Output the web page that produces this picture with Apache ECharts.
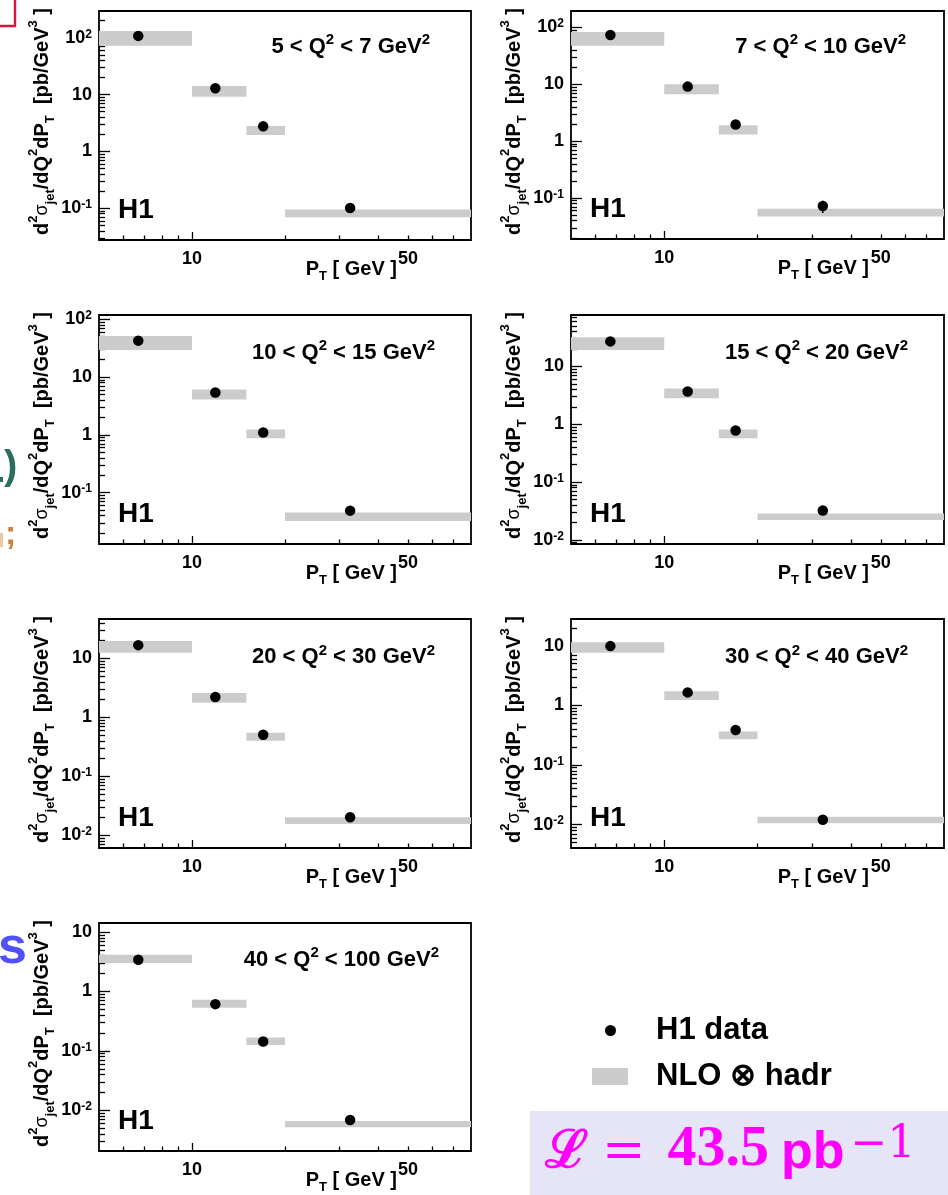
<!DOCTYPE html>
<html><head><meta charset="utf-8">
<script src="https://cdn.jsdelivr.net/npm/echarts@6/dist/echarts.min.js"></script>
<style>html,body{margin:0;padding:0;background:#fff}#c{width:948px;height:1195px}</style>
</head><body><div id="c"></div>
<script>
// ---------- data ----------
const ptBinLow  = [5, 10, 15, 20];
const ptBinHigh = [10, 15, 20, 80];
const ptMean    = [6.7, 11.9, 17.0, 32.5];
const q2Low  = [5, 7, 10, 15, 20, 30, 40];
const q2High = [7, 10, 15, 20, 30, 40, 100];

const h1_q5_7     = [108, 12.9, 2.76, 0.101];
const err_q5_7    = [3, 0.4, 0.09, 0.008];
const nloLo_q5_7  = [72.2, 9.2, 1.94, 0.0693];
const nloHi_q5_7  = [131, 14.2, 2.80, 0.0947];

const h1_q7_10    = [73.3, 9.1, 1.96, 0.0724];
const err_q7_10   = [2.2, 0.3, 0.07, 0.0175];
const nloLo_q7_10 = [47.6, 6.68, 1.31, 0.0476];
const nloHi_q7_10 = [82.8, 10.0, 1.91, 0.065];

const h1_q10_15    = [42.8, 5.43, 1.10, 0.0488];
const err_q10_15   = [1.3, 0.17, 0.04, 0.008];
const nloLo_q10_15 = [29.4, 4.10, 0.875, 0.0324];
const nloHi_q10_15 = [51.4, 6.12, 1.24, 0.0451];

const h1_q15_20    = [27.0, 3.67, 0.777, 0.0324];
const err_q15_20   = [0.8, 0.12, 0.03, 0.004];
const nloLo_q15_20 = [19.1, 2.81, 0.573, 0.0221];
const nloHi_q15_20 = [31.7, 4.13, 0.809, 0.0288];

const h1_q20_30    = [16.8, 2.21, 0.508, 0.0202];
const err_q20_30   = [0.5, 0.07, 0.02, 0.003];
const nloLo_q20_30 = [12.5, 1.77, 0.402, 0.0156];
const nloHi_q20_30 = [19.7, 2.59, 0.549, 0.0202];

const h1_q30_40    = [9.87, 1.65, 0.385, 0.0121];
const err_q30_40   = [0.3, 0.05, 0.015, 0.002];
const nloLo_q30_40 = [7.62, 1.23, 0.271, 0.0105];
const nloHi_q30_40 = [11.5, 1.72, 0.365, 0.0136];

const h1_q40_100    = [3.42, 0.612, 0.144, 0.00687];
const err_q40_100   = [0.1, 0.02, 0.006, 0.001];
const nloLo_q40_100 = [3.01, 0.531, 0.126, 0.00518];
const nloHi_q40_100 = [4.16, 0.724, 0.168, 0.00662];

const yMin = [0.0276, 0.0191, 0.0129, 0.00853, 0.0061, 0.00405, 0.00207];
const yMax = [296, 194, 119, 77.1, 46.6, 28.1, 14.2];
const xMin = 5, xMax = 80;
const xLabelValues = [10, 50];
const xMajorTicks = [10];
const xMinorTicks = [6, 7, 8, 9, 20, 30, 40, 50, 60, 70];
const yDecades = [0.001, 0.01, 0.1, 1, 10, 100, 1000];

// ---------- assembly ----------
const panels = [
  {h1: h1_q5_7,    err: err_q5_7,    lo: nloLo_q5_7,    hi: nloHi_q5_7},
  {h1: h1_q7_10,   err: err_q7_10,   lo: nloLo_q7_10,   hi: nloHi_q7_10},
  {h1: h1_q10_15,  err: err_q10_15,  lo: nloLo_q10_15,  hi: nloHi_q10_15},
  {h1: h1_q15_20,  err: err_q15_20,  lo: nloLo_q15_20,  hi: nloHi_q15_20},
  {h1: h1_q20_30,  err: err_q20_30,  lo: nloLo_q20_30,  hi: nloHi_q20_30},
  {h1: h1_q30_40,  err: err_q30_40,  lo: nloLo_q30_40,  hi: nloHi_q30_40},
  {h1: h1_q40_100, err: err_q40_100, lo: nloLo_q40_100, hi: nloHi_q40_100}
];
const layout = [
  {left: 99,  top: 11,  w: 372, h: 229, titleRight: 430, titleDy: 35.5},
  {left: 571, top: 11,  w: 373, h: 228, titleRight: 906, titleDy: 35.5},
  {left: 99,  top: 315, w: 372, h: 229, titleRight: 435, titleDy: 37.5},
  {left: 571, top: 315, w: 373, h: 229, titleRight: 908, titleDy: 37.5},
  {left: 99,  top: 619, w: 372, h: 229, titleRight: 435, titleDy: 38},
  {left: 571, top: 619, w: 373, h: 229, titleRight: 908, titleDy: 38},
  {left: 99,  top: 923, w: 372, h: 228, titleRight: 439, titleDy: 36.7}
];
const FONT = '"Liberation Sans", Arial, Helvetica, sans-serif';
const yMinorTicks = [];
for (let n = -3; n <= 2; n++) for (let k = 2; k <= 9; k++) yMinorTicks.push(Number((k * Math.pow(10, n)).toPrecision(6)));

function yLabel(v) {
  const e = Math.round(Math.log10(v));
  if (e === 0) return '{n|1}';
  if (e === 1) return '{n|10}';
  return '{n|10}{e|' + e + '}';
}

const grid = [], xAxis = [], yAxis = [], series = [], elements = [];
const tickStyle = {color: '#000', width: 1.3};

panels.forEach((p, i) => {
  const L = layout[i];
  grid.push({left: L.left, top: L.top, width: L.w, height: L.h, show: true,
    borderColor: '#000', borderWidth: 1.8, backgroundColor: 'transparent',
    containLabel: false, outerBoundsMode: 'none'});
  // major x
  xAxis.push({type: 'log', logBase: 10, gridIndex: i, min: xMin, max: xMax, position: 'bottom',
    axisLine: {show: false}, splitLine: {show: false}, minorTick: {show: false},
    axisTick: {show: true, inside: true, length: 8, customValues: xMajorTicks, lineStyle: tickStyle},
    axisLabel: {show: true, customValues: xLabelValues, margin: 10, fontSize: 18, fontWeight: 'bold',
      fontFamily: FONT, color: '#000', formatter: v => String(Math.round(v))}});
  // minor x
  xAxis.push({type: 'log', logBase: 10, gridIndex: i, min: xMin, max: xMax, position: 'bottom',
    axisLine: {show: false}, splitLine: {show: false}, axisLabel: {show: false},
    axisTick: {show: true, inside: true, length: 4.5, customValues: xMinorTicks, lineStyle: tickStyle}});
  // major y
  yAxis.push({type: 'log', logBase: 10, gridIndex: i, min: yMin[i], max: yMax[i], position: 'left',
    axisLine: {show: false}, splitLine: {show: false}, minorTick: {show: false},
    axisTick: {show: true, inside: true, length: 11, customValues: yDecades, lineStyle: tickStyle},
    axisLabel: {show: true, customValues: yDecades, margin: 7, formatter: yLabel,
      rich: {
        n: {fontSize: 18, fontWeight: 'bold', fontFamily: FONT, color: '#000', lineHeight: 19},
        e: {fontSize: 12, fontWeight: 'bold', fontFamily: FONT, color: '#000', verticalAlign: 'top', lineHeight: 12}
      }}});
  // minor y
  yAxis.push({type: 'log', logBase: 10, gridIndex: i, min: yMin[i], max: yMax[i], position: 'left',
    axisLine: {show: false}, splitLine: {show: false}, axisLabel: {show: false},
    axisTick: {show: true, inside: true, length: 6, customValues: yMinorTicks, lineStyle: tickStyle}});

  const xi = 2 * i, yi = 2 * i;
  series.push({
    type: 'custom', name: 'NLO ⊗ hadr', xAxisIndex: xi, yAxisIndex: yi, z: 1,
    itemStyle: {color: '#cccccc'},
    data: ptBinLow.map((x, j) => [x, ptBinHigh[j], p.lo[j], p.hi[j]]),
    encode: {x: [0, 1], y: [2, 3]},
    renderItem: (params, api) => {
      const a = api.coord([api.value(0), api.value(3)]);
      const b = api.coord([api.value(1), api.value(2)]);
      return {type: 'rect', shape: {x: a[0], y: a[1], width: b[0] - a[0], height: b[1] - a[1]},
        style: {fill: '#cccccc'}};
    }
  });
  series.push({
    type: 'custom', name: 'H1 data', xAxisIndex: xi, yAxisIndex: yi, z: 2,
    itemStyle: {color: '#000'},
    data: ptMean.map((x, j) => [x, p.h1[j] - p.err[j], p.h1[j] + p.err[j]]),
    encode: {x: 0, y: [1, 2]},
    renderItem: (params, api) => {
      const a = api.coord([api.value(0), api.value(1)]);
      const b = api.coord([api.value(0), api.value(2)]);
      return {type: 'line', shape: {x1: a[0], y1: a[1], x2: b[0], y2: b[1]},
        style: {stroke: '#000', lineWidth: 1.5}};
    }
  });
  series.push({
    type: 'scatter', name: 'H1 data', xAxisIndex: xi, yAxisIndex: yi, z: 3,
    symbol: 'circle', symbolSize: 10.5, itemStyle: {color: '#000', opacity: 1},
    data: ptMean.map((x, j) => [x, p.h1[j]])
  });

  // texts
  const bottom = L.top + L.h;
  elements.push({type: 'text', x: L.left + 19, y: bottom - 29.5, silent: true,
    style: {text: 'H1', font: 'bold 28px ' + FONT, fill: '#000', textAlign: 'left', textVerticalAlign: 'middle'}});
  elements.push({type: 'text', x: L.titleRight, y: L.top + L.titleDy, silent: true,
    style: {text: '{m|' + q2Low[i] + ' < Q}{s|2}{m| < ' + q2High[i] + ' GeV}{s|2}', textAlign: 'right', textVerticalAlign: 'middle',
      rich: {m: {fontSize: 22, fontWeight: 'bold', fontFamily: FONT, fill: '#000', lineHeight: 28},
             s: {fontSize: 15, fontWeight: 'bold', fontFamily: FONT, fill: '#000', lineHeight: 15, verticalAlign: 'top'}}}});
  elements.push({type: 'text', x: L.left + 298, y: bottom + 29.5, silent: true,
    style: {text: '{m|P}{b|T}{m| [ GeV ]}', textAlign: 'right', textVerticalAlign: 'middle',
      rich: {m: {fontSize: 20, fontWeight: 'bold', fontFamily: FONT, fill: '#000', lineHeight: 26},
             b: {fontSize: 13, fontWeight: 'bold', fontFamily: FONT, fill: '#000', lineHeight: 13, verticalAlign: 'bottom'}}}});
  elements.push({type: 'text', x: L.left - 57, y: L.top - 3, rotation: Math.PI / 2, silent: true,
    style: {text: '{m|d}{p|2}{g|σ}{b|jet}{m|/dQ}{p|2}{m|dP}{b|T}{m|  [pb/GeV}{p|3}{m| ]}', textAlign: 'right', textVerticalAlign: 'middle',
      rich: {m: {fontSize: 20, fontWeight: 'bold', fontFamily: FONT, fill: '#000', lineHeight: 30},
             g: {fontSize: 18, fontFamily: FONT, fill: '#000', lineHeight: 30},
             p: {fontSize: 13, fontWeight: 'bold', fontFamily: FONT, fill: '#000', lineHeight: 14, verticalAlign: 'top'},
             b: {fontSize: 13, fontWeight: 'bold', fontFamily: FONT, fill: '#000', lineHeight: 13, verticalAlign: 'bottom'}}}});
});

// luminosity box
elements.push({type: 'rect', shape: {x: 530, y: 1111, width: 418, height: 84}, style: {fill: '#e5e5f7'}, silent: true, z: -1});
elements.push({type: 'text', x: 545, y: 1151.5, silent: true,
  style: {text: '{L|ℒ}{q|=}{n|43.5}{p|pb}{s|−1}', textAlign: 'left', textVerticalAlign: 'middle',
    rich: {
      L: {fontSize: 52, fontWeight: 'bold', fontFamily: '"DejaVu Serif", serif', fill: '#ff00ff', lineHeight: 56, verticalAlign: 'bottom', padding: [0, 14, 0, 0]},
      q: {fontSize: 52, fontFamily: '"DejaVu Serif", serif', fill: '#ff00ff', lineHeight: 56, verticalAlign: 'bottom', padding: [0, 22, 0, 0]},
      n: {fontSize: 58, fontWeight: 'bold', fontFamily: '"Liberation Serif", serif', fill: '#ff00ff', lineHeight: 56, verticalAlign: 'bottom', padding: [0, 12, 0, 0]},
      p: {fontSize: 52, fontWeight: 'bold', fontFamily: FONT, fill: '#ff00ff', lineHeight: 56, verticalAlign: 'bottom'},
      s: {fontSize: 44, fontFamily: '"DejaVu Serif", serif', fill: '#ff00ff', lineHeight: 40, verticalAlign: 'top', padding: [0, 0, 25, 6]}
    }}});

// fragments of neighbouring slide text
elements.push({type: 'polyline', shape: {points: [[0, 26], [15, 26], [15, 0]]}, style: {stroke: '#dc143c', lineWidth: 2.4, fill: null}, silent: true});
elements.push({type: 'text', x: 4, y: 468, silent: true, style: {text: ')', font: 'bold 40px ' + FONT, fill: '#2b6e5e', textAlign: 'left', textVerticalAlign: 'middle'}});
elements.push({type: 'rect', shape: {x: 0, y: 477, width: 3, height: 5}, style: {fill: '#2b6e5e'}, silent: true});
elements.push({type: 'text', x: 5, y: 535, silent: true, style: {text: ';', font: 'bold 34px ' + FONT, fill: '#c8823c', textAlign: 'left', textVerticalAlign: 'middle'}});
elements.push({type: 'rect', shape: {x: 0, y: 533, width: 3, height: 14}, style: {fill: '#ecc8a4'}, silent: true});
elements.push({type: 'text', x: -2, y: 949, silent: true, style: {text: 's', font: 'bold 52px ' + FONT, fill: '#5050ff', textAlign: 'left', textVerticalAlign: 'middle'}});

const legendText = {fontSize: 31, fontWeight: 'bold', fontFamily: FONT, color: '#000'};
const option = {
  animation: false,
  backgroundColor: '#fff',
  grid, xAxis, yAxis, series,
  legend: [
    {data: [{name: 'H1 data', icon: 'circle', itemStyle: {color: '#000'}}], left: 605, top: 1015, padding: 0,
      itemWidth: 11, itemHeight: 11, textStyle: Object.assign({padding: [0, 0, 0, 35]}, legendText)},
    {data: [{name: 'NLO ⊗ hadr', icon: 'rect', itemStyle: {color: '#cccccc'}}], left: 592, top: 1061, padding: 0,
      itemWidth: 36, itemHeight: 17, textStyle: Object.assign({padding: [0, 0, 0, 23]}, legendText)}
  ],
  graphic: {elements}
};
const chart = echarts.init(document.getElementById('c'), null, {renderer: 'canvas'});
chart.setOption(option);
</script></body></html>
